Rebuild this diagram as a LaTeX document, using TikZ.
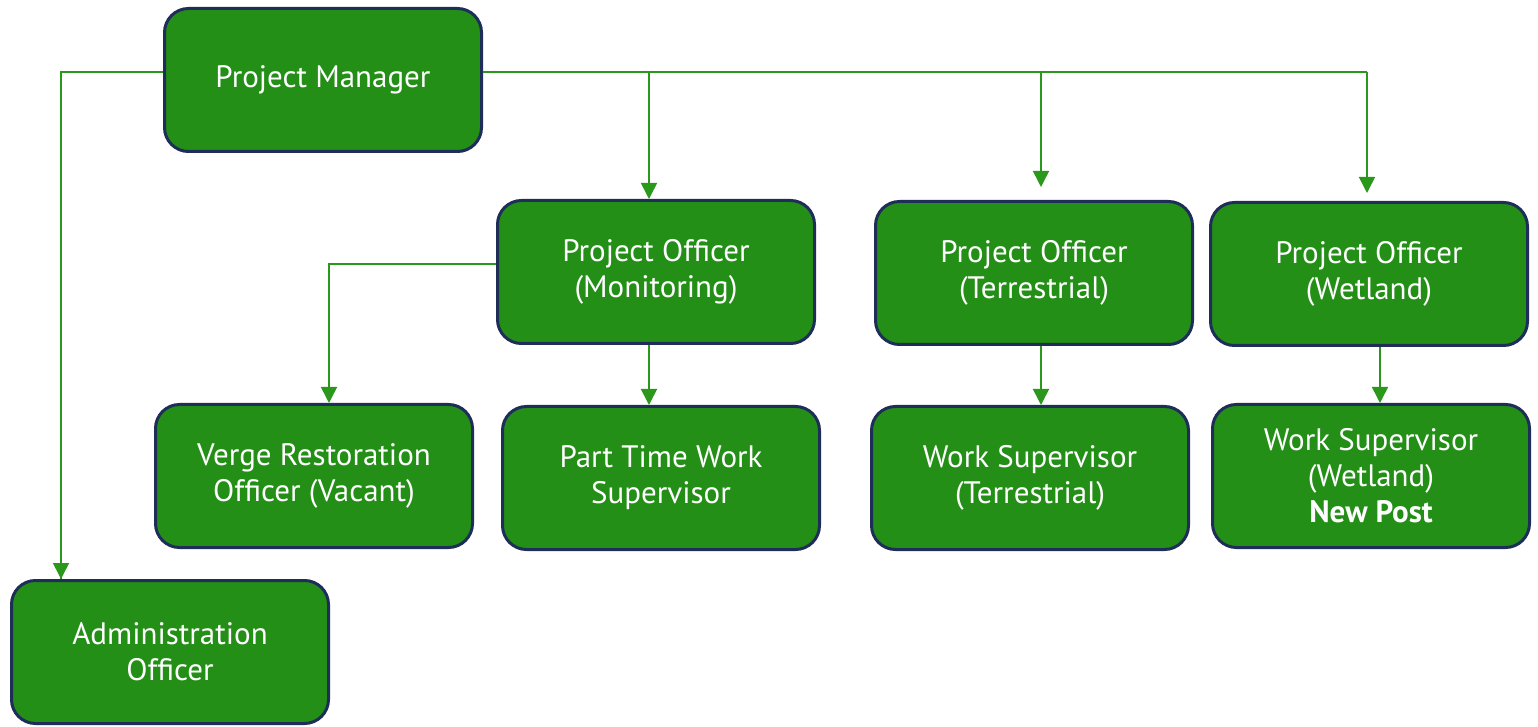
\documentclass[tikz,border=0pt]{standalone}
\usepackage{fontspec}
\setmainfont{PT Sans}
\usetikzlibrary{arrows.meta,positioning}
\definecolor{boxgreen}{RGB}{36,143,22}
\definecolor{boxline}{RGB}{31,46,88}
\definecolor{linkgreen}{RGB}{42,152,26}
\tikzset{>/.tip={Triangle[length=8pt,width=8pt]}}
\tikzset{post/.style={draw=boxline,line width=1.5pt,fill=boxgreen,rounded corners=12pt,
  minimum width=158.5pt,minimum height=71.5pt,text=white,align=center,font=\fontsize{15.5}{18}\selectfont}}
\tikzset{link/.style={draw=linkgreen,line width=0.8pt}}
\begin{document}
\begin{tikzpicture}[x=0.5pt,y=-0.5pt]
        \useasboundingbox (0,0) rectangle (1538,727);
        \node[post](pm) at (323,80){Project Manager};
        \node[post](pomon) at (656,272){Project Officer\\(Monitoring)};
        \node[post](poter) at (1034,273){Project Officer\\(Terrestrial)};
        \node[post](powet) at (1369,274){Project Officer\\(Wetland)};
        \node[post](verge) at (314,476){Verge Restoration\\Officer (Vacant)};
        \node[post](parttime) at (661,478){Part Time Work\\Supervisor};
        \node[post](wster) at (1030,478){Work Supervisor\\(Terrestrial)};
        \node[post](wswet) at (1371,476){Work Supervisor\\(Wetland)\\\textbf{New Post}};
        \node[post](admin) at (170,652){Administration\\Officer};
        % ends of the drops that stop short of their box
        \coordinate(terend) at (1041,187);
        \coordinate(wetend) at (1367,193);
        \draw[link]
        (pm.west |- 0,72) -| (admin.north -| 61,0)
        (pm.east |- 0,72) -- (1367,72);
        \draw[link,->] (61,72) -- (admin.north -| 61,0);
        \draw[link,->] (649,72) -- (pomon.north -| 649,0);
        \draw[link,->] (1041,72) -- (terend);
        \draw[link,->] (1367,72) -- (wetend);
        \draw[link,->] (pomon.west |- 0,264) -| (verge.north -| 329,0);
        \draw[link,->] (pomon.south -| 649,0) -- (parttime.north -| 649,0);
        \draw[link,->] (poter.south -| 1041,0) -- (wster.north -| 1041,0);
        \draw[link,->] (powet.south -| 1380,0) -- (wswet.north -| 1380,0);
      \end{tikzpicture}
\end{document}
